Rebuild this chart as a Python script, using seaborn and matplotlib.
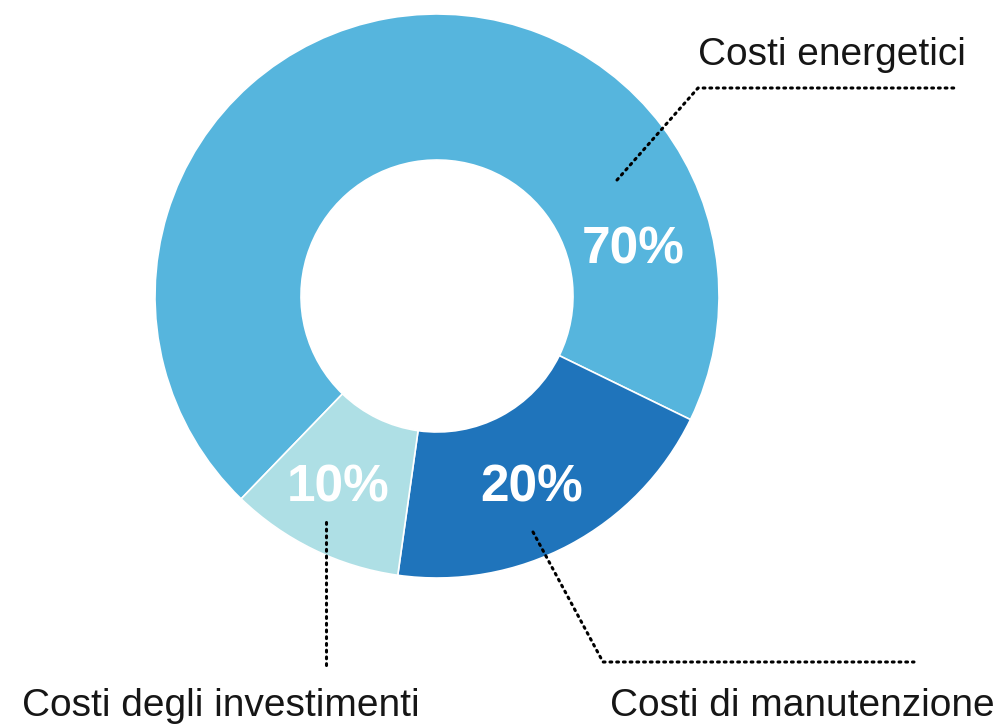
"""Donut chart of cost shares (Italian labels) with dotted leader lines."""
import matplotlib
matplotlib.use("Agg")
import seaborn as sns
from matplotlib import pyplot as plt

categories = ["Costi energetici", "Costi di manutenzione", "Costi degli investimenti"]
shares = [70, 20, 10]
pct_labels = ["70%", "20%", "10%"]
colors = ["#56B5DD", "#1F74BB", "#AEDFE5"]

sns.set_theme(style="white")
plt.rcParams["font.family"] = ["Liberation Sans", "DejaVu Sans"]

W, H = 998, 725
fig = plt.figure(figsize=(W / 100, H / 100), dpi=100)
ax = fig.add_axes([0, 0, 1, 1])

cx, cy = 437, H - 296
r_out, r_in = 282, 136
ax.pie(
    shares,
    colors=colors,
    startangle=226,
    counterclock=False,
    center=(cx, cy),
    radius=r_out,
    wedgeprops=dict(width=r_out - r_in, edgecolor="white", linewidth=1.2),
    frame=True,
)
ax.set_xlim(0, W)
ax.set_ylim(0, H)
ax.set_axis_off()


def img(x, y):
    return x, H - y


# percentage labels (baseline positions)
pct_pos = [(633, 263), (532, 502), (338, 502)]
for lab, (x, y) in zip(pct_labels, pct_pos):
    ax.text(*img(x, y), lab, color="white", fontsize=37, fontweight="bold",
            ha="center", va="baseline")

# dotted leader lines
leaders = [
    [(617, 180), (698, 88), (956, 88)],
    [(533, 532), (603, 662), (914, 662)],
    [(326, 522), (326, 665)],
]
for pts in leaders:
    xs = [p[0] for p in pts]
    ys = [H - p[1] for p in pts]
    ax.plot(xs, ys, color="black", linewidth=2.2, linestyle=(0, (0.6, 1.6)),
            dash_capstyle="round")

# category labels
label_pos = [(698, 65, "left"), (995, 716, "right"), (22, 716, "left")]
for name, (x, y, ha) in zip(categories, label_pos):
    ax.text(*img(x, y), name, color="#161616", fontsize=28, ha=ha, va="baseline")

fig.savefig("out.png", dpi=100)
